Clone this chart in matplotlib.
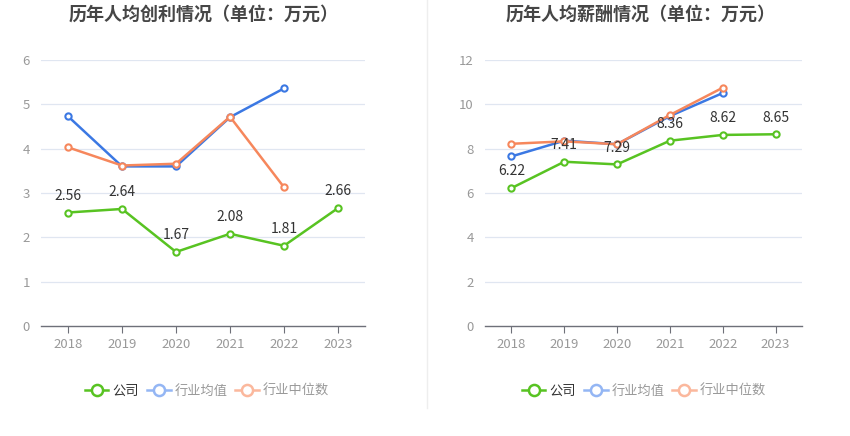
import matplotlib
matplotlib.use("Agg")
import matplotlib.pyplot as plt
from matplotlib.lines import Line2D

plt.rcParams['font.family'] = ['Noto Sans CJK SC', 'DejaVu Sans']

years = ['2018', '2019', '2020', '2021', '2022', '2023']

profit_company = [2.56, 2.64, 1.67, 2.08, 1.81, 2.66]
profit_avg = [4.73, 3.60, 3.60, 4.71, 5.36]
profit_median = [4.03, 3.62, 3.66, 4.72, 3.13]

salary_company = [6.22, 7.41, 7.29, 8.36, 8.62, 8.65]
salary_avg = [7.65, 8.36, 8.20, 9.47, 10.51]
salary_median = [8.22, 8.33, 8.20, 9.52, 10.75]

titles = ['历年人均创利情况（单位：万元）', '历年人均薪酬情况（单位：万元）']
legend_labels = ['公司', '行业均值', '行业中位数']

GREEN = '#58c322'
BLUE = '#3b78e3'
ORANGE = '#f6875c'
LBLUE = '#94b6f4'
LORANGE = '#fbb89d'

W, H = 850, 436
fig = plt.figure(figsize=(8.5, 4.36), dpi=100)

def fx(px):
    return px / W

def fy(py):
    return 1 - py / H

panels = [
    dict(x0=41, x1=365, ymax=6, ystep=1, comp=profit_company, avg=profit_avg, med=profit_median,
         title=titles[0], tx=204, lx=207),
    dict(x0=485, x1=802, ymax=12, ystep=2, comp=salary_company, avg=salary_avg, med=salary_median,
         title=titles[1], tx=641, lx=644),
]

for p in panels:
    ax = fig.add_axes([fx(p['x0']), fy(326), fx(p['x1'] - p['x0']), fy(60) - fy(326)])
    n = len(years)
    ax.set_xlim(-0.5, n - 0.5)
    ax.set_ylim(0, p['ymax'])
    yt = list(range(0, p['ymax'] + 1, p['ystep']))
    ax.set_yticks(yt)
    ax.set_yticklabels([str(v) for v in yt])
    ax.set_xticks(range(n))
    ax.set_xticklabels(years)
    for s in ['top', 'right', 'left']:
        ax.spines[s].set_visible(False)
    ax.spines['bottom'].set_color('#6e7079')
    ax.spines['bottom'].set_linewidth(1)
    ax.tick_params(axis='y', length=0, labelsize=9.5, labelcolor='#999999', pad=8)
    ax.tick_params(axis='x', length=5, color='#6e7079', labelsize=9.5, labelcolor='#999999', pad=4)
    for v in yt[1:]:
        ax.axhline(v, color='#e0e6f1', lw=0.9, zorder=0)

    xs = list(range(n))
    mk = dict(marker='o', markersize=4.5, markerfacecolor='white', markeredgewidth=1.5, lw=1.8)
    ax.plot(xs[:len(p['avg'])], p['avg'], color=BLUE, zorder=3, **mk)
    ax.plot(xs[:len(p['med'])], p['med'], color=ORANGE, zorder=4, **mk)
    ax.plot(xs, p['comp'], color=GREEN, zorder=5, **mk)
    for x, v in zip(xs, p['comp']):
        ax.annotate(f'{v:.2f}', (x, v), xytext=(0, 7), textcoords='offset points',
                    ha='center', va='bottom', fontsize=10, color='#333333', zorder=6)

    fig.text(fx(p['tx']), fy(14), p['title'], ha='center', va='center', fontsize=13,
             fontweight='bold', color='#464646')

    handles = [
        Line2D([], [], color=GREEN, marker='o', markersize=8, markerfacecolor='white', markeredgewidth=1.8, lw=1.8),
        Line2D([], [], color=LBLUE, marker='o', markersize=8, markerfacecolor='white', markeredgewidth=1.8, lw=1.8),
        Line2D([], [], color=LORANGE, marker='o', markersize=8, markerfacecolor='white', markeredgewidth=1.8, lw=1.8),
    ]
    leg = fig.legend(handles, legend_labels, loc='center', bbox_to_anchor=(fx(p['lx']), fy(391)),
                     ncol=3, frameon=False, fontsize=9.5, handlelength=1.8, handletextpad=0.3,
                     columnspacing=0.6)
    for i, t in enumerate(leg.get_texts()):
        t.set_color('#333333' if i == 0 else '#999999')

fig.add_artist(Line2D([fx(427), fx(427)], [fy(0), fy(408)], color='#eeeeee', lw=1))

fig.savefig('out.png', dpi=100, facecolor='white')
